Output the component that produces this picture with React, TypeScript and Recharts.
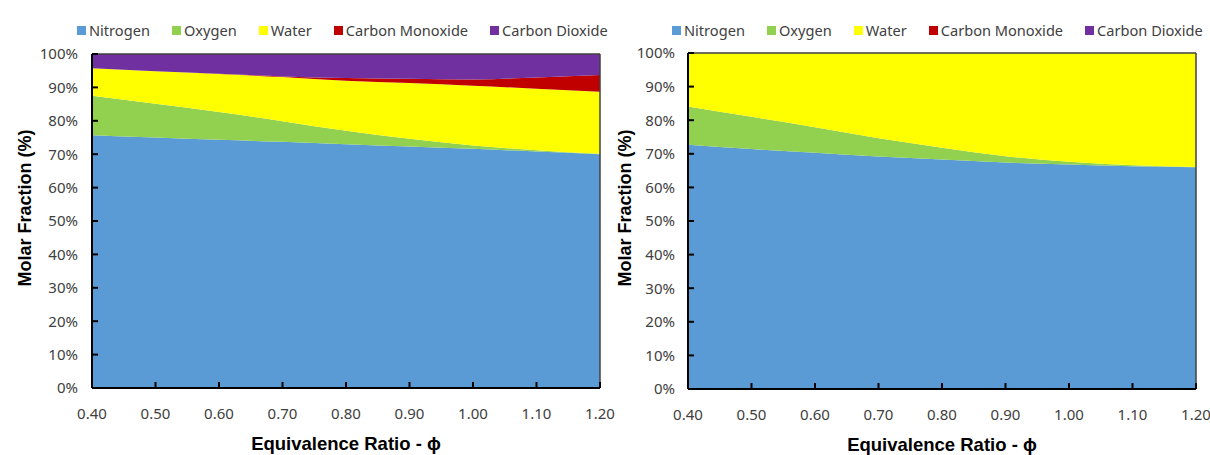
import { AreaChart, Area, XAxis, YAxis, ReferenceLine, Label } from 'recharts';

// equivalence ratio
const phi = [0.4, 0.5, 0.6, 0.7, 0.8, 0.9, 1.0, 1.1, 1.2];

// left chart (molar fraction, %)
const n2Left = [75.7, 75.0, 74.3, 73.7, 73.0, 72.3, 71.6, 70.8, 70.0];
const o2Left = [11.8, 10.1, 8.3, 6.2, 4.0, 2.3, 1.0, 0.4, 0.1];
const h2oLeft = [8.2, 9.7, 11.4, 13.2, 15.0, 16.7, 17.9, 18.4, 18.6];
const coLeft = [0.0, 0.0, 0.1, 0.2, 0.8, 1.3, 1.9, 3.4, 5.0];
const co2Left = [4.3, 5.2, 5.9, 6.7, 7.2, 7.4, 7.6, 7.0, 6.3];

// right chart (molar fraction, %)
const n2Right = [72.7, 71.4, 70.3, 69.2, 68.3, 67.4, 66.8, 66.3, 66.0];
const o2Right = [11.4, 9.6, 7.6, 5.4, 3.5, 1.9, 0.8, 0.3, 0.1];
const h2oRight = [15.9, 19.0, 22.1, 25.4, 28.2, 30.7, 32.4, 33.4, 33.9];
const coRight = [0, 0, 0, 0, 0, 0, 0, 0, 0];
const co2Right = [0, 0, 0, 0, 0, 0, 0, 0, 0];

const xTicks = [0.4, 0.5, 0.6, 0.7, 0.8, 0.9, 1.0, 1.1, 1.2];
const yTicks = [0, 10, 20, 30, 40, 50, 60, 70, 80, 90, 100];

const series = [
  { key: 'n2', name: 'Nitrogen', color: '#5B9BD5' },
  { key: 'o2', name: 'Oxygen', color: '#92D050' },
  { key: 'h2o', name: 'Water', color: '#FFFF00' },
  { key: 'co', name: 'Carbon Monoxide', color: '#C00000' },
  { key: 'co2', name: 'Carbon Dioxide', color: '#7030A0' },
];

const build = (n2: number[], o2: number[], h2o: number[], co: number[], co2: number[]) =>
  phi.map((p, i) => ({ phi: p, n2: n2[i], o2: o2[i], h2o: h2o[i], co: co[i], co2: co2[i] }));

const leftData = build(n2Left, o2Left, h2oLeft, coLeft, co2Left);
const rightData = build(n2Right, o2Right, h2oRight, coRight, co2Right);

const tickFont = { fontFamily: 'Noto Sans', fontSize: 15, fill: '#404040' };
const titleFont = 'Liberation Sans';
const W = 640;

const LegendRow = ({ left }: { left: number }) => (
  <div
    style={{
      position: 'absolute',
      left,
      top: 20,
      display: 'flex',
      gap: 22,
      fontFamily: 'Noto Sans',
      fontSize: 14.6,
      lineHeight: '20px',
      color: '#404040',
      whiteSpace: 'nowrap',
    }}
  >
    {series.map((s) => (
      <div key={s.key} style={{ display: 'flex', alignItems: 'center' }}>
        <span style={{ width: 9, height: 9, background: s.color, marginRight: 3, display: 'inline-block' }} />
        <span>{s.name}</span>
      </div>
    ))}
  </div>
);

type PanelProps = {
  data: any[];
  left: number;
  axisLeft: number;
  plotRight: number;
  top: number;
  bottom: number;
  tickMargin: number;
  legendLeft: number;
};

function Panel({ data, left, axisLeft, plotRight, top, bottom, tickMargin, legendLeft }: PanelProps) {
  return (
    <div style={{ position: 'absolute', left, top: 0, width: W, height: 455 }}>
      <LegendRow left={legendLeft} />
      <AreaChart
        width={W}
        height={455}
        data={data}
        margin={{ top, right: W - plotRight, left: 0, bottom: 0 }}
      >
        <XAxis
          dataKey="phi"
          type="number"
          domain={[0.4, 1.2]}
          ticks={xTicks}
          tickFormatter={(v: number) => v.toFixed(2)}
          height={455 - bottom}
          tickSize={-6}
          tickMargin={26}
          axisLine={{ stroke: '#000', strokeWidth: 2 }}
          tickLine={{ stroke: '#000', strokeWidth: 2 }}
          tick={tickFont}
          interval={0}
        >
          <Label
            content={({ viewBox }: any) => (
              <text
                x={viewBox.x + viewBox.width / 2}
                y={viewBox.y + 62}
                textAnchor="middle"
                fontFamily={titleFont}
                fontWeight="bold"
                fontSize={18.5}
                fill="#000"
              >
                Equivalence Ratio - ϕ
              </text>
            )}
          />
        </XAxis>
        <YAxis
          type="number"
          domain={[0, 100]}
          ticks={yTicks}
          tickFormatter={(v: number) => `${v}%`}
          width={axisLeft}
          tickSize={-6}
          tickMargin={tickMargin}
          axisLine={{ stroke: '#000', strokeWidth: 2 }}
          tickLine={{ stroke: '#000', strokeWidth: 2 }}
          tick={tickFont}
          interval={0}
        >
          <Label
            content={() => (
              <text
                x={31}
                y={208}
                transform="rotate(-90 31 208)"
                textAnchor="middle"
                fontFamily={titleFont}
                fontWeight="bold"
                fontSize={18}
                fill="#000"
              >
                Molar Fraction (%)
              </text>
            )}
          />
        </YAxis>
        {series.map((s) => (
          <Area
            key={s.key}
            dataKey={s.key}
            name={s.name}
            stackId="a"
            type="monotone"
            fill={s.color}
            fillOpacity={1}
            stroke="none"
            isAnimationActive={false}
          />
        ))}
        <ReferenceLine y={100} stroke="#404040" strokeWidth={1.5} />
        <ReferenceLine x={1.2} stroke="#404040" strokeWidth={1.5} />
      </AreaChart>
    </div>
  );
}

export default function App() {
  return (
    <div style={{ position: 'absolute', left: 0, top: 0, width: 1210, height: 455, background: '#fff', overflow: 'hidden' }}>
      <Panel data={leftData} left={0} axisLeft={92} plotRight={600} top={54} bottom={388} tickMargin={20} legendLeft={77} />
      <Panel data={rightData} left={600} axisLeft={88} plotRight={596} top={53} bottom={389} tickMargin={19} legendLeft={72} />
    </div>
  );
}
